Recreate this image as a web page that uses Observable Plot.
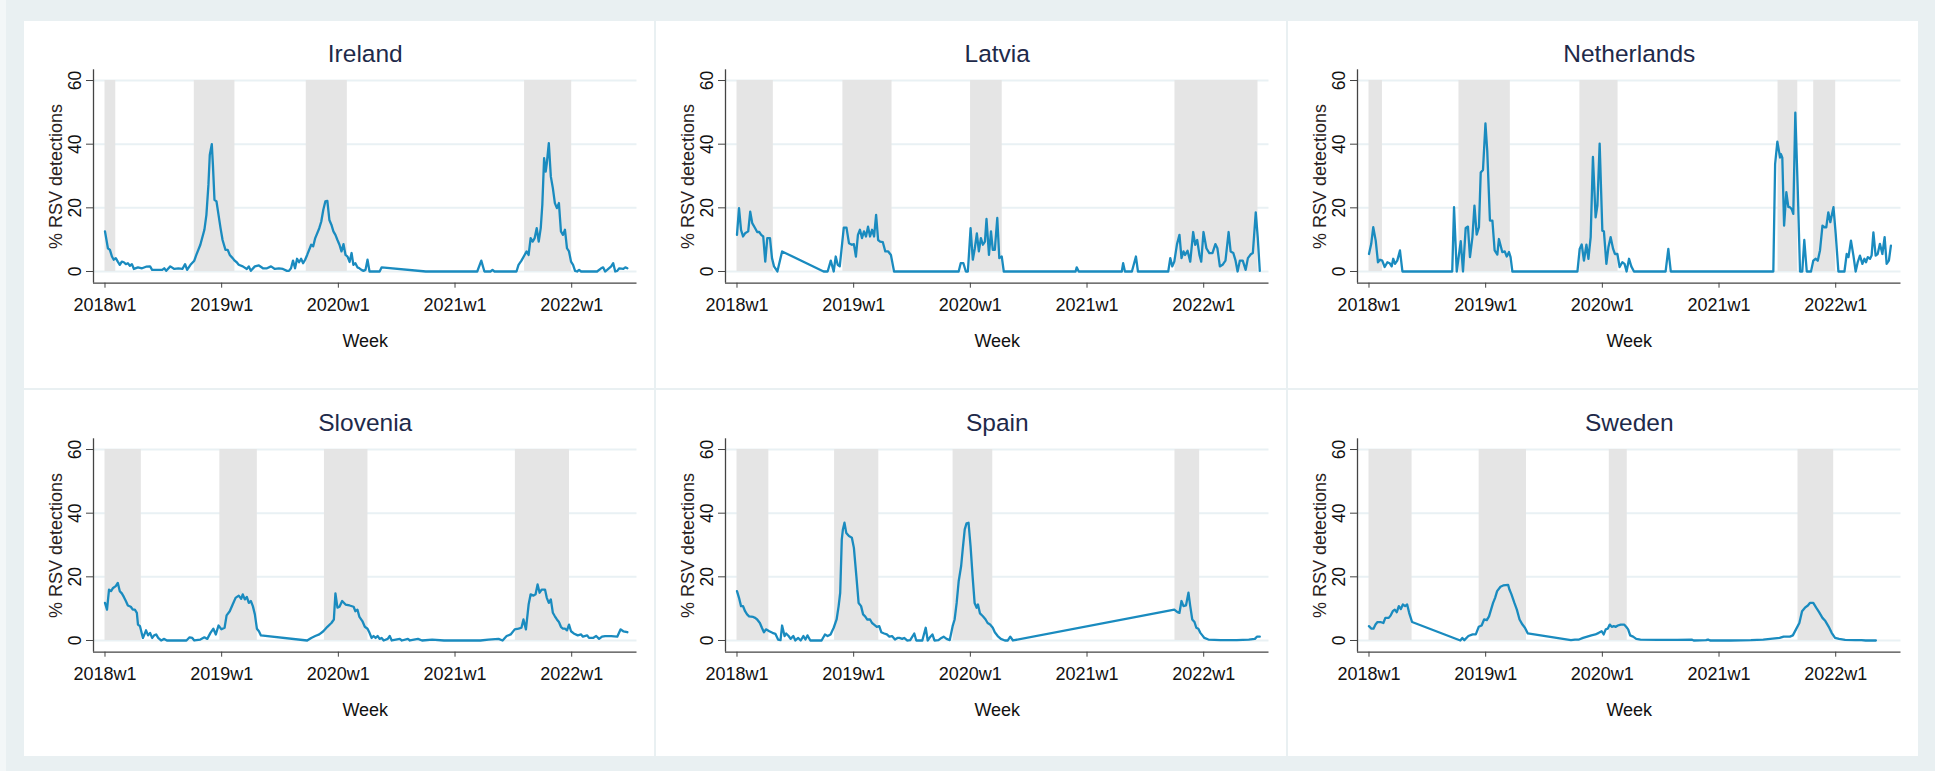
<!DOCTYPE html>
<html>
<head>
<meta charset="utf-8">
<script src="https://cdn.jsdelivr.net/npm/d3@7"></script>
<script src="https://cdn.jsdelivr.net/npm/@observablehq/plot@0.6"></script>
<style>
  html, body { margin: 0; padding: 0; }
  body { width: 1935px; height: 771px; background: #e9f0f2; overflow: hidden; position: relative;
         font-family: "Liberation Sans", Arial, sans-serif; }
  #strip { position: absolute; left: 0; top: 0; width: 6px; height: 771px; background: #f3f7f8; }
  .panel { position: absolute; background: #ffffff; overflow: hidden; }
  .panel svg { display: block; }
</style>
</head>
<body>
<div id="strip"></div>
<script>
// ---- axis ticks (x = weeks since 2018w1, Stata weekly dates: 52 weeks per year) ----
const xTicks = [0, 52, 104, 156, 208];
const xTickLabels = ["2018w1", "2019w1", "2020w1", "2021w1", "2022w1"];
const yTicks = [0, 20, 40, 60];
const countries = ["Ireland", "Latvia", "Netherlands", "Slovenia", "Spain", "Sweden"];

// ---- % RSV detections, [week, value] ----
const ireland = [[0,12.6],[1.3,7.3],[2.2,6.8],[3.1,4.7],[3.9,3.7],[4.8,4.2],[5.7,3.1],[6.6,2.1],[7.5,3.1],[8.4,2.9],[9.3,2.3],[10.2,2.6],[11.1,1.8],[12,2.3],[12.9,0.8],[14.7,1.3],[16.5,1.0],[18.3,1.5],[20.1,1.6],[21,0.5],[23.7,0.5],[25.5,0.5],[26.4,1.0],[27.3,0.2],[29.1,1.6],[30.9,0.8],[32.7,1.0],[34.5,0.8],[35.7,2.3],[36.6,0.5],[38.1,2.1],[39.8,3.4],[40.7,5.2],[42.5,8.4],[44.3,13.1],[45.2,17.8],[46.1,27.2],[46.7,36.6],[47.6,40.0],[48.1,33.5],[48.8,22.5],[49.7,22.0],[50.6,17.8],[51.5,13.6],[52.4,9.9],[53.7,6.8],[54.7,6.8],[55.6,5.2],[56.9,4.2],[57.8,3.4],[58.7,2.9],[59.6,2.1],[61.4,1.6],[63.2,0.8],[64.1,1.6],[65,0.2],[66.8,1.6],[68.6,1.9],[70.4,1.0],[72.2,1.0],[74,1.6],[75.7,0.8],[77.5,1.0],[79.3,0.8],[81.1,0.2],[82,0.2],[82.9,1.0],[83.8,3.4],[84.7,1.0],[85.6,4.0],[86.5,2.9],[87.4,4.0],[88.3,2.6],[89.2,3.7],[90.1,5.2],[91.9,8.4],[92.8,7.9],[93.7,10.5],[95.5,13.6],[96.4,15.7],[97.3,19.4],[98.2,22.0],[99.1,22.2],[100,16.2],[100.9,14.7],[101.8,12.6],[102.7,11.5],[103.6,9.9],[104.5,8.4],[105.4,6.3],[106.3,8.6],[107.2,5.2],[108.1,4.7],[109,3.0],[109.9,5.8],[110.7,2.1],[111.6,2.6],[112.5,1.3],[113.4,1.0],[114.3,0.5],[115.2,0.2],[116.1,0.5],[117,3.7],[117.9,0],[122.4,0],[123.3,1.3],[143,0],[165.9,0],[167.7,3.4],[169.1,0],[171.8,0],[172.7,0.5],[173.6,0],[183.4,0],[184.3,2.1],[185.6,3.4],[187,5.2],[187.9,6.3],[188.8,5.2],[189.7,10.5],[190.6,9.4],[191.5,10.5],[192.4,13.6],[193.3,9.4],[194.2,13.6],[194.9,20.9],[195.7,35.6],[196.4,31.4],[196.9,34.0],[197.8,40.3],[198.7,29.8],[199.6,26.2],[200.5,21.5],[201.4,19.9],[202.3,21.5],[203.2,12.6],[204.1,11.5],[205,13.1],[205.9,7.3],[206.8,6.3],[207.7,3.1],[208.6,2.1],[209.5,0.2],[210.4,0],[211.3,0.5],[212.2,0],[219.3,0],[221.1,1.0],[222,1.3],[222.9,0],[223.8,0.5],[225.6,1.6],[226.5,2.6],[227.4,0],[228.3,0.2],[229.2,1.0],[231,0.8],[231.9,1.3],[232.8,1.0]];
const latvia = [[0,11.5],[0.9,19.9],[1.8,13.1],[2.7,11.0],[3.6,12.0],[5,12.6],[5.9,18.8],[6.8,15.2],[8.1,13.6],[9,12.4],[9.9,12.4],[10.8,11.5],[11.7,11.0],[12.6,3.1],[13.5,10.5],[14.7,10.5],[15.6,4.2],[16.5,1.6],[18,0],[20.1,6.3],[38.6,0],[40.4,0],[41.8,3.4],[43.1,0],[44,4.7],[44.9,2.1],[45.8,1.6],[47.6,13.8],[48.8,13.8],[49.9,8.9],[51.2,8.4],[52.1,8.6],[53,4.7],[53.9,11.5],[54.8,13.1],[55.7,10.5],[56.6,12.6],[57.5,11.0],[58.4,14.1],[59.3,11.0],[60.2,13.1],[61.1,11.0],[62,17.8],[62.9,9.9],[63.8,9.4],[65,9.2],[66.1,6.3],[67.4,6.3],[68.6,5.2],[70,0],[98.8,0],[99.7,2.6],[100.9,2.6],[102,0],[102.9,0],[104.1,13.6],[105.1,3.7],[106,7.3],[106.9,12.0],[107.8,6.3],[108.7,10.5],[109.6,8.4],[110.5,9.4],[111.2,16.5],[112.3,5.2],[113.2,12.6],[114,6.8],[114.9,6.8],[116,16.8],[116.9,4.2],[118,4.7],[118.9,0],[150.9,0],[151.4,1.3],[152.3,0],[171.5,0],[172.1,2.6],[172.9,0],[176,0],[177.8,4.7],[178.7,0],[192.2,0],[193.1,4.2],[194,1.6],[194.9,3.1],[196.1,8.6],[197.2,11.5],[198.1,4.2],[199,6.3],[199.7,5.2],[200.8,6.5],[202,3.1],[203.3,12.4],[204.2,8.4],[205.1,9.9],[206.1,5.2],[206.9,3.1],[207.9,12.4],[209.2,7.3],[210.5,5.8],[211.9,5.8],[213.2,8.6],[214.1,7.3],[215.2,1.6],[216.4,2.1],[217.7,3.4],[219.1,12.4],[220,6.3],[221.2,5.8],[222.2,3.4],[223.1,0],[224.1,3.4],[225.4,3.4],[226.7,0.5],[227.7,4.2],[229,5.4],[229.9,5.8],[231.2,18.6],[232.1,10.5],[233,0.2]];
const netherlands = [[0,5.5],[1,8.7],[1.9,13.9],[3,9.7],[4,2.9],[4.9,3.7],[5.9,3.4],[7,1.4],[8.2,2.9],[9.2,2.6],[10.1,1.6],[10.8,4.0],[11.6,2.4],[12.6,3.4],[13.8,6.6],[14.9,0],[37.1,0],[37.9,20.2],[39.1,0],[40.9,9.5],[41.9,0],[43.1,13.7],[44.1,14.1],[45,4.5],[46.1,10.8],[47,20.7],[48,11.6],[49,13.9],[49.8,31.1],[50.8,31.9],[51.9,46.5],[52.7,37.9],[53.9,16.0],[55,16.0],[56,6.6],[57.2,5.3],[57.9,10.2],[59.4,6.1],[60.5,6.3],[61.4,4.7],[62.4,6.1],[63.1,4.5],[63.9,0],[92.9,0],[93.9,7.1],[94.8,8.5],[95.8,3.4],[96.9,8.4],[97.8,4.0],[98.8,10.8],[99.8,36.0],[101,17.0],[101.8,20.7],[102.8,40.2],[104,12.8],[104.7,12.6],[105.8,2.4],[106.7,7.6],[107.7,10.8],[108.8,7.1],[109.6,5.5],[110.7,5.5],[111.7,1.4],[112.9,2.9],[113.9,2.4],[114.8,0],[115.9,4.0],[116.9,1.6],[118.1,0],[132.2,0],[133.4,7.1],[134.5,0],[180.2,0],[181,33.7],[182,40.8],[183.2,35.8],[183.6,36.9],[184.2,35.8],[185,14.4],[186,24.9],[186.9,20.2],[187.6,20.2],[188.4,19.6],[189.1,18.1],[190,49.9],[191.1,25.4],[192.1,0],[193.1,0],[194,9.9],[195.1,0],[197,0],[198,3.4],[199.1,4.0],[200,3.4],[201,6.6],[202.1,14.4],[203,13.9],[203.8,13.9],[204.7,18.6],[205.6,15.5],[207,20.2],[208,11.8],[209.2,0],[211.9,0],[212.9,5.5],[213.7,4.5],[214.8,9.7],[215.9,5.0],[216.9,0],[217.8,2.9],[218.8,5.0],[219.9,2.4],[220.8,4.0],[221.5,2.9],[222.3,4.5],[223.3,4.0],[224,5.0],[224.8,12.3],[225.8,5.0],[226.7,5.5],[227.7,8.7],[228.8,5.5],[229.8,10.8],[230.7,2.4],[231.7,3.4],[232.6,8.1]];
const slovenia = [[0,11.8],[0.9,9.7],[1.8,16.0],[2.7,15.5],[3.6,16.5],[4.8,17.1],[5.7,18.1],[6.6,15.5],[7.5,14.8],[8.4,13.7],[9.3,12.4],[10.2,11.0],[11.5,10.6],[12.4,9.7],[13.3,9.7],[14.2,8.7],[14.7,5.0],[15.6,4.5],[16.9,0.8],[17.4,1.6],[18.3,3.2],[19.2,1.6],[20.1,2.4],[21,0.8],[21.9,1.6],[22.8,1.9],[23.7,0.8],[25,0],[26.4,0.5],[27.6,0],[36.3,0],[37.7,1.0],[38.9,0.8],[39.8,0],[42.5,0.3],[44.3,1.0],[45.6,0.5],[47,2.4],[48.3,3.7],[49.4,1.9],[50.6,4.7],[51.9,3.5],[53.3,4.0],[54.2,7.9],[55.6,9.2],[56.9,11.3],[58.2,13.4],[59.6,14.1],[60.7,13.1],[61.4,14.5],[62.3,12.9],[63.2,13.7],[64.1,11.8],[65,12.4],[65.9,10.8],[66.8,8.2],[67.7,3.7],[68.6,2.9],[69.5,1.6],[90.1,0],[91.9,0.8],[93.7,1.4],[95.5,1.9],[97.3,2.9],[99.1,4.3],[100.9,5.5],[102,6.6],[102.7,14.8],[103.6,10.3],[104.5,10.6],[105.7,12.4],[107.2,11.3],[109,11.0],[110.8,10.6],[111.6,9.2],[112.5,9.7],[113.4,7.4],[114.7,6.1],[115.8,4.3],[117,3.7],[117.9,2.4],[118.8,0.8],[119.7,1.4],[120.6,0.8],[121.5,1.4],[122.4,0.5],[123.3,0.8],[124.2,0],[126,0.5],[126.9,1.4],[127.8,0],[131.4,0.5],[132.3,0],[135,0.5],[135.9,0],[139.5,0.5],[141.3,0],[145.8,0.3],[151.1,0],[167.3,0],[170.9,0.3],[175.4,0.5],[177.2,0],[179,1.4],[180.8,1.9],[182.6,3.5],[184.3,3.7],[185.6,4.0],[186.5,6.6],[187.6,3.5],[188.8,11.3],[189.7,14.5],[191,14.1],[191.9,14.5],[192.8,17.6],[193.7,15.0],[194.6,16.0],[196.1,16.0],[196.9,13.4],[197.8,11.8],[198.7,12.9],[199.6,8.7],[200.5,7.6],[201.4,6.6],[202.3,5.8],[203.2,4.3],[204.1,3.7],[205,3.7],[205.9,3.2],[206.8,5.0],[207.7,2.9],[208.9,2.2],[210.7,1.6],[212.2,1.9],[213,1.2],[214.9,1.6],[215.7,0.8],[217.5,0.8],[218.9,1.4],[220.2,0.5],[221.5,1.2],[222.9,1.4],[225.6,1.4],[228.3,1.2],[229.8,3.5],[231,2.9],[232.8,2.6]];
const spain = [[0,15.5],[0.9,13.4],[1.8,10.8],[2.7,10.8],[3.6,9.2],[4.5,8.2],[5.4,7.6],[7.2,7.4],[8.1,7.1],[9,6.6],[10.2,5.5],[11.1,4.0],[12,2.6],[12.9,3.5],[14.4,2.9],[15.8,2.4],[17.1,2.1],[18.3,0.3],[19.4,0.1],[20.1,4.7],[21.2,1.4],[21.9,2.2],[23,1.4],[23.9,0.5],[25.1,1.4],[26,0],[27.3,0.8],[28.4,0],[29.6,1.4],[30.5,0.3],[31.4,1.6],[32.7,0],[37.7,0],[39.2,1.9],[40.4,1.4],[41.7,1.9],[43.1,4.0],[44.4,6.6],[45.3,10.8],[46,15.0],[46.7,31.7],[47.2,34.9],[47.9,37.0],[48.7,33.8],[49.9,32.8],[51.2,32.3],[52.1,29.1],[53.2,20.2],[54.2,11.8],[55.3,10.8],[56.2,8.2],[57.1,7.6],[58,6.6],[59.3,6.6],[60.2,5.5],[61.1,5.0],[62.3,4.3],[63.4,4.5],[64.3,2.6],[65.6,2.2],[66.8,1.9],[67.9,1.2],[69.1,1.4],[70.4,0.3],[71.5,0.8],[72.4,0.8],[73.6,0.5],[74.5,0.8],[75.8,0],[77.2,0.1],[79,2.2],[79.9,0],[82.6,0],[84.1,4.0],[85,0],[86.2,1.2],[87.1,1.9],[88,0],[89.8,0.1],[91.1,0.8],[92.1,1.2],[93.4,0.5],[94.8,0.1],[96.1,4.5],[97,6.6],[97.9,11.8],[98.8,18.6],[99.9,23.4],[100.6,28.6],[101.5,34.9],[102.3,36.8],[103.2,37.0],[104.1,29.6],[105,20.2],[105.9,11.8],[106.8,10.3],[107.4,11.3],[108.3,8.5],[109.6,7.6],[110.8,6.6],[111.7,5.5],[112.8,5.0],[114,4.0],[114.9,2.6],[116.2,1.4],[117.6,0.5],[119.4,0],[120.7,0],[121.8,1.2],[123,0],[194.9,9.7],[196.3,8.9],[197.2,8.7],[198.1,12.4],[199,10.8],[200.1,11.0],[201.2,15.0],[202,10.8],[202.9,6.6],[203.9,5.8],[204.7,4.0],[205.6,3.7],[206.5,2.4],[207.4,1.6],[208.3,0.8],[210.1,0.3],[215.5,0.1],[222.7,0.1],[228.1,0.3],[230.8,0.5],[231.7,1.2],[233,1.2]];
const sweden = [[0,4.5],[1.1,3.7],[2,3.7],[2.9,5.0],[3.8,5.8],[5.1,5.8],[6.4,5.5],[7.3,7.1],[8.8,7.1],[9.7,7.9],[10.6,9.2],[11.5,9.7],[12.4,8.9],[13.3,10.8],[14.2,9.9],[15.1,11.3],[16.1,10.8],[17,11.3],[17.9,8.7],[19.2,5.8],[40.7,0],[41.6,0.8],[42.5,0.1],[44.3,1.4],[46.2,1.9],[47.6,1.9],[48.9,4.3],[50.2,4.7],[51.3,6.6],[52.5,6.4],[53.5,7.6],[54.4,9.7],[55.3,11.8],[56.2,13.4],[57.1,15.5],[58.6,16.9],[59.8,17.3],[62,17.5],[62.6,16.0],[63.5,14.5],[64.8,11.8],[65.9,9.7],[67.1,6.6],[68.4,5.0],[69.5,4.0],[70.8,2.2],[90,0.1],[91.8,0.3],[93.6,0.3],[95.4,0.8],[97.3,1.2],[99.1,1.6],[100.9,1.9],[102.4,2.4],[103.7,2.9],[104.6,1.9],[105.5,3.5],[106.4,3.7],[107.3,5.0],[108.2,4.3],[109.1,4.5],[110,4.3],[110.9,4.7],[112.2,5.0],[113.7,5.0],[114.6,4.3],[115.5,3.5],[116.4,1.6],[117.7,1.2],[119.1,0.5],[121,0.3],[128.3,0.2],[137.4,0.2],[143.8,0.3],[144.7,0],[150.2,0.1],[151.1,0.3],[152,0],[161.1,0],[170.2,0.1],[175.7,0.3],[183,0.8],[184.8,1.2],[187.6,1.2],[188.9,1.6],[190.3,3.5],[191.8,5.5],[193,9.2],[194.3,10.3],[195.6,11.0],[196.5,11.8],[198,11.8],[199.3,10.3],[200.6,8.9],[202.1,7.1],[203.4,6.1],[204.9,4.3],[206.2,2.4],[207.7,0.8],[209.5,0.5],[212.2,0.2],[216.8,0.1],[219.5,0.1],[221.4,0],[225.9,0]];

// ---- shaded season periods, [start week, end week] ----
const irelandSeasons = [[0,4.8],[39.8,57.9],[89.7,108],[187,208]];
const latviaSeasons = [[0,16.2],[47.2,69.1],[104.1,118.2],[195.2,232.2]];
const netherlandsSeasons = [[0,6],[40.1,63],[94,111],[182.3,191.1],[198.2,208]];
const sloveniaSeasons = [[0,16.2],[51.2,67.9],[97.8,117.2],[182.9,207]];
const spainSeasons = [[0,14.2],[43.5,63.2],[96.3,114],[195.2,206.2]];
const swedenSeasons = [[0,19.2],[49.1,70.2],[107.1,115.1],[191.2,207.1]];

const seriesByCountry = {Ireland: ireland, Latvia: latvia, Netherlands: netherlands, Slovenia: slovenia, Spain: spain, Sweden: sweden};
const seasonsByCountry = {Ireland: irelandSeasons, Latvia: latviaSeasons, Netherlands: netherlandsSeasons, Slovenia: sloveniaSeasons, Spain: spainSeasons, Sweden: swedenSeasons};

// ---- layout ----
const FONT = '"Liberation Sans", Arial, sans-serif';
const colLefts = [24, 656, 1288];
const rows = [{top: 21, h: 367}, {top: 390, h: 366}];
const PW = 630;
const xDom = [-5.12, 237.1];
const yDom = [-3.68, 63.37];
const LINE = "#1a8bbf";

countries.forEach((name, i) => {
  const col = i % 3, row = Math.floor(i / 3);
  const H = rows[row].h;
  const div = document.createElement("div");
  div.className = "panel";
  div.style.left = colLefts[col] + "px";
  div.style.top = rows[row].top + "px";
  div.style.width = PW + "px";
  div.style.height = H + "px";
  document.body.appendChild(div);

  const pts = seriesByCountry[name].map(([w, v]) => ({w, v}));
  const seas = seasonsByCountry[name].map(([s, e]) => ({s, e}));

  const chart = Plot.plot({
    width: PW, height: H,
    marginLeft: 69, marginRight: 17.5, marginTop: 48.3, marginBottom: H - 48.3 - 213.4,
    x: {domain: xDom},
    y: {domain: yDom},
    style: {fontFamily: FONT, background: "transparent", color: "#111"},
    marks: [
      Plot.ruleY(yTicks, {stroke: "#e9f1f4", strokeWidth: 2}),
      Plot.rect(seas, {x1: "s", x2: "e", y1: 0, y2: 60, fill: "#e5e5e5"}),
      Plot.ruleX([xDom[0]], {y1: yDom[0], y2: yDom[1], stroke: "#444", strokeWidth: 1.3}),
      Plot.ruleY([yDom[0]], {x1: xDom[0], x2: xDom[1], stroke: "#444", strokeWidth: 1.3}),
      Plot.axisX({ticks: xTicks, tickSize: 5, tickFormat: () => "", label: null, stroke: "#444"}),
      Plot.axisY({ticks: yTicks, tickSize: 7, tickFormat: () => "", label: null, stroke: "#444"}),
      Plot.line(pts, {x: "w", y: "v", stroke: LINE, strokeWidth: 2.3, strokeLinejoin: "round"}),
      Plot.text(xTicks, {x: d => d, text: (d, j) => xTickLabels[j], frameAnchor: "bottom", dy: 15, lineAnchor: "top", fontSize: 18, fill: "#111"}),
      Plot.text(yTicks, {y: d => d, text: d => String(d), frameAnchor: "left", dx: -13, rotate: -90, textAnchor: "middle", lineAnchor: "bottom", fontSize: 17.5, fill: "#111"}),
      Plot.text([name], {text: d => d, frameAnchor: "top", dy: -8.3, lineAnchor: "bottom", fontSize: 24.5, fill: "#1e2a4a"}),
      Plot.text(["Week"], {text: d => d, frameAnchor: "bottom", dy: 63.5, lineAnchor: "bottom", fontSize: 18, fill: "#111"}),
      Plot.text(["% RSV detections"], {text: d => d, frameAnchor: "left", dx: -32, rotate: -90, textAnchor: "middle", lineAnchor: "bottom", fontSize: 18, fill: "#2a2222"})
    ]
  });
  div.appendChild(chart);
});
</script>
</body>
</html>
